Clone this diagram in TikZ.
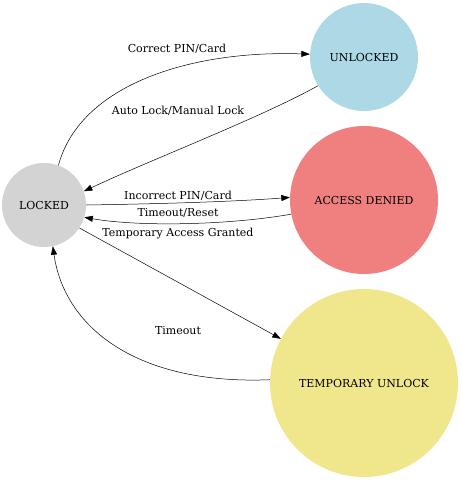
\documentclass[tikz,border=0pt]{standalone}
\usepackage{fontspec}
\setmainfont{DejaVu Serif}
\usetikzlibrary{arrows.meta}
\definecolor{cLocked}{HTML}{D3D3D3}
\definecolor{cUnlocked}{HTML}{ADD8E6}
\definecolor{cDenied}{HTML}{F08080}
\definecolor{cTemp}{HTML}{F0E68C}
\tikzset{
  state/.style={circle, inner sep=0pt, font=\fontsize{11}{13}\selectfont},
  edge/.style={-{Triangle[length=8.5pt,width=6pt]}, line width=0.5pt},
  lbl/.style={font=\fontsize{11}{13}\selectfont, inner sep=0pt}
}
\begin{document}
\begin{tikzpicture}[x=1pt,y=-1pt]
\useasboundingbox (0,0) rectangle (462,480);
\node[state, fill=cLocked, minimum size=84pt] (L) at (44,205) {LOCKED};
\node[state, fill=cUnlocked, minimum size=108pt] (U) at (364,57) {UNLOCKED};
\node[state, fill=cDenied, minimum size=148pt] (D) at (364,200) {ACCESS DENIED};
\node[state, fill=cTemp, minimum size=188pt] (T) at (364,383) {TEMPORARY UNLOCK};

\draw[edge] (L.70) .. controls (80,85) and (190,50) .. (U.177);
\draw[edge] (U.212) .. controls (260,118) and (150,160) .. (L.19);
\draw[edge] (L.0) .. controls (150,204) and (230,202) .. (D.178);
\draw[edge] (D.191) .. controls (230,225) and (140,227) .. (L.-17);
\draw[edge] (L.-33) -- (T.152);
\draw[edge] (T.178) .. controls (140,385) and (65,330) .. (L.-78);

\node[lbl] (l1) at (177,49) {Correct PIN/Card};
\node[lbl] (l2) at (178,111) {Auto Lock/Manual Lock};
\node[lbl] (l3) at (178,196) {Incorrect PIN/Card};
\node[lbl] (l4) at (178,213) {Timeout/Reset};
\node[lbl] (l5) at (178,234) {Temporary Access Granted};
\node[lbl] (l6) at (178,331) {Timeout};
\end{tikzpicture}
\end{document}
